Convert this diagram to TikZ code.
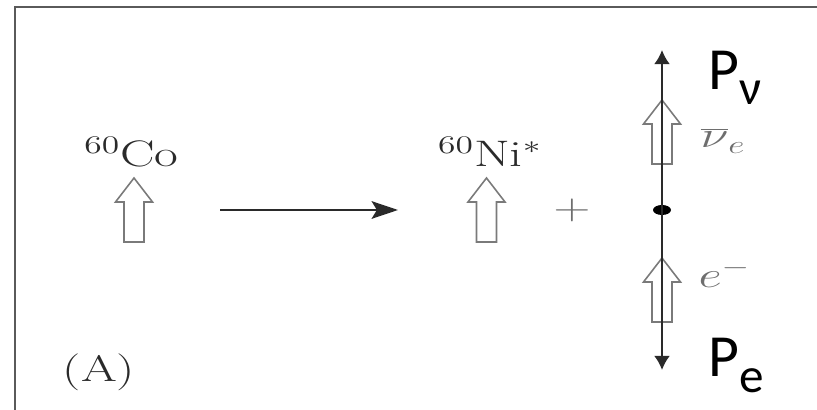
\documentclass[tikz,border=0pt]{standalone}
\usepackage{fontspec}
\newfontfamily\calib{Carlito}
\usepackage{tikz}
\usetikzlibrary{arrows.meta,shapes.geometric}
\definecolor{ink}{HTML}{2A2A2A}
\definecolor{faint}{HTML}{6E6E6E}
\definecolor{spingray}{HTML}{7A7A7A}
\definecolor{framegray}{HTML}{5A5A5A}

\tikzset{
  scan/.style={font=\fontsize{21}{24}\selectfont, text=ink, xscale=1.4, inner sep=0pt},
  faintlabel/.style={scan, text=faint},
  plabel/.style={font=\calib\fontsize{34}{36}\selectfont, text=black, inner sep=0pt},
  spinarr/.style={draw=spingray, line width=0.9pt, line join=miter},
  react/.style={draw=ink, line width=1.4pt, -{Stealth[length=15pt,width=10pt,inset=3pt]}},
  axis/.style={draw=ink, line width=1.2pt, -{Latex[length=8pt,width=9pt]}}
}

\begin{document}
\begin{tikzpicture}
\useasboundingbox (0,0) rectangle (16.34,8.2);

% frame of the scanned panel
\draw[framegray, line width=1.5pt] (0.3,0) -- (0.3,8.06) -- (16.34,8.06);

% nuclei and labels
\node[scan, anchor=base] (co) at (2.63,4.86) {$^{60}$Co};
\node[scan, anchor=base] (ni) at (9.8,4.86) {$^{60}$Ni$^*$};
\node[scan, text=faint] (plus) at (11.44,4.0) {$+$};
\node[scan] (lab) at (1.98,0.76) {(A)};

% spin arrows
\foreach \x/\y in {2.68/4.64, 9.73/4.64, 13.24/6.2, 13.24/3.04}
  \draw[spinarr, shift={(\x,\y)}] (-0.2,-1.28) -- (-0.2,-0.48) -- (-0.37,-0.48)
    -- (0,0) -- (0.37,-0.48) -- (0.2,-0.48) -- (0.2,-1.28) -- cycle;

% decay arrow
\coordinate (rs) at (4.4,4.0);
\coordinate (re) at (7.96,4.0);
\draw[react] (rs) -- (re);

% momentum axis
\node[ellipse, fill=black, minimum width=0.36cm, minimum height=0.2cm, inner sep=0pt] (vtx) at (13.24,4.0) {};
\coordinate (top) at (13.24,7.2);
\coordinate (bot) at (13.24,0.8);
\draw[axis] (vtx.center) -- (top);
\draw[axis] (vtx.center) -- (bot);

\node[faintlabel, anchor=base west] (nubar) at (14.0,5.24) {$\overline{\nu}_e$};
\node[faintlabel, anchor=base west] (elec) at (13.96,2.44) {$e^-$};

\node[plabel, anchor=base west] (pnu) at (14.16,6.4) {P\raisebox{-8.5pt}{\fontsize{28}{28}\selectfont ν}};
\node[plabel, anchor=base west] (pe) at (14.16,0.66) {P\raisebox{-9pt}{\fontsize{28}{28}\selectfont e}};
\end{tikzpicture}
\end{document}
